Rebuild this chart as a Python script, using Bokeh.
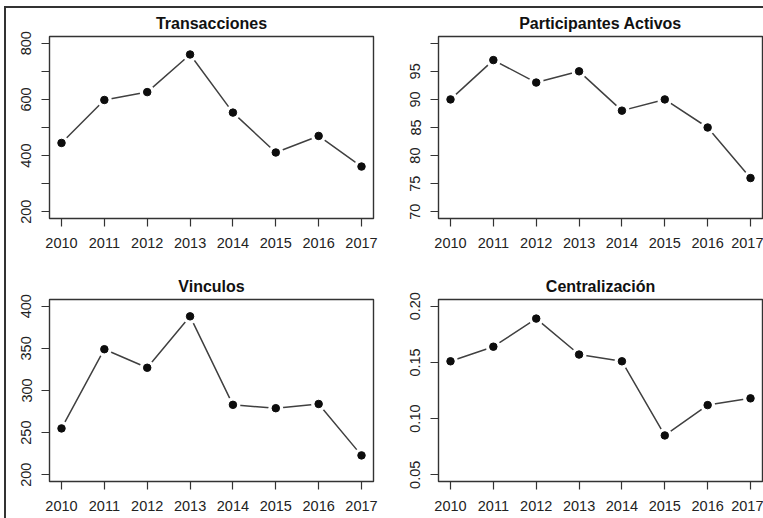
from bokeh.plotting import figure
from bokeh.layouts import column, row
from bokeh.models import Range1d, FixedTicker, ColumnDataSource, NumeralTickFormatter
from bokeh.embed import file_html
from bokeh.resources import INLINE

years = [2010, 2011, 2012, 2013, 2014, 2015, 2016, 2017]
transacciones = [445, 598, 626, 760, 553, 411, 470, 361]
participantes = [90, 97, 93, 95, 88, 90, 85, 76]
vinculos = [255, 349, 327, 388, 283, 279, 284, 223]
centralizacion = [0.151, 0.164, 0.189, 0.157, 0.151, 0.085, 0.112, 0.118]

titles = ["Transacciones", "Participantes Activos", "Vinculos", "Centralización"]
ticks_trans = [200, 300, 400, 500, 600, 700, 800]
ticks_part = [70, 75, 80, 85, 90, 95, 100]
ticks_vinc = [200, 250, 300, 350, 400]
ticks_cent = [0.05, 0.10, 0.15, 0.20]

FONT = "Liberation Sans"
TXT = "#222222"


def panel(title, values, yticks, overrides, fmt, left, right, top, bottom, fw, fh):
    lo, hi = yticks[0], yticks[-1]
    pad = 0.04 * (hi - lo)
    xpad = 0.04 * (years[-1] - years[0])
    p = figure(
        frame_width=fw, frame_height=fh,
        min_border_left=left, min_border_right=right,
        min_border_top=top, min_border_bottom=bottom,
        x_range=Range1d(years[0] - xpad, years[-1] + xpad),
        y_range=Range1d(lo - pad, hi + pad),
        output_backend="svg", toolbar_location=None, tools="",
        background_fill_color="white", border_fill_color="white",
    )
    p.title.text = title
    p.title.align = "center"
    p.title.text_font = FONT
    p.title.text_font_size = "16px"
    p.title.text_font_style = "bold"
    p.title.text_color = "#111111"
    p.title.standoff = 9
    p.grid.visible = False
    p.outline_line_color = "#333333"
    p.outline_line_width = 1.4
    for ax in (p.xaxis[0], p.yaxis[0]):
        ax.axis_line_color = None
        ax.major_tick_line_color = "#333333"
        ax.major_tick_line_width = 1.2
        ax.major_tick_out = 8
        ax.major_tick_in = 0
        ax.minor_tick_line_color = None
        ax.major_label_text_font = FONT
        ax.major_label_text_font_size = "14.5px"
        ax.major_label_text_color = TXT
    p.xaxis.ticker = FixedTicker(ticks=years)
    p.xaxis.major_label_standoff = 11
    p.yaxis.ticker = FixedTicker(ticks=yticks)
    p.yaxis.major_label_orientation = "vertical"
    p.yaxis.major_label_standoff = 10
    if fmt:
        p.yaxis.formatter = NumeralTickFormatter(format=fmt)
    if overrides:
        p.yaxis.major_label_overrides = overrides
    src = ColumnDataSource(dict(x=years, y=values))
    p.line("x", "y", source=src, line_color="#404040", line_width=1.5)
    p.scatter("x", "y", source=src, size=15, fill_color="white", line_color=None)
    p.scatter("x", "y", source=src, size=7.5, fill_color="#0d0d0d", line_color="#0d0d0d")
    return p


p1 = panel(titles[0], transacciones, ticks_trans, {300: "", 500: "", 700: ""}, None,
           43, 21, 28, 53, 324, 182)
p2 = panel(titles[1], participantes, ticks_part, {100: ""}, None,
           44, 1, 28, 53, 324, 182)
p3 = panel(titles[2], vinculos, ticks_vinc, None, None,
           43, 21, 28, 37, 324, 182)
p4 = panel(titles[3], centralizacion, ticks_cent, None, "0.00",
           44, 1, 28, 37, 324, 182)

layout = column(
    row(p1, p2), row(p3, p4),
    styles={"margin-left": "4px", "margin-top": "6px",
            "border-left": "2px solid #333333", "border-top": "2px solid #333333"},
)
open("out.html", "w").write(file_html(layout, INLINE))
